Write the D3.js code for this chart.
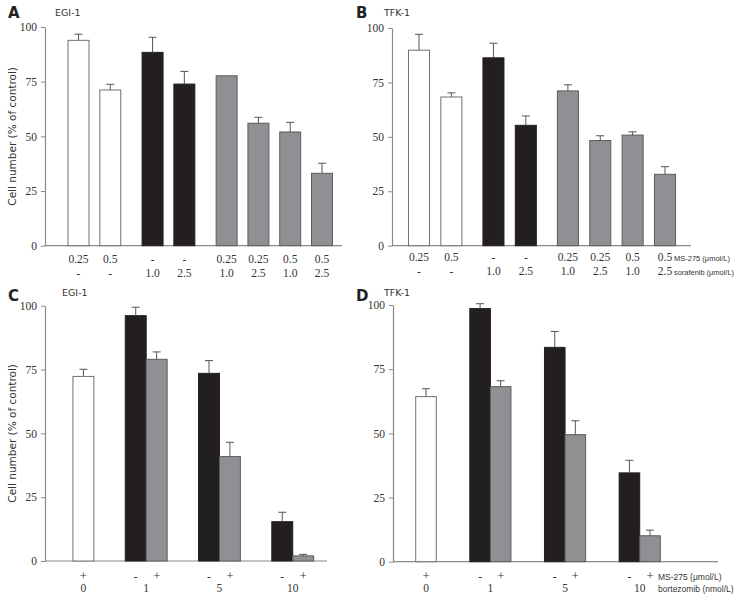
<!DOCTYPE html>
<html><head><meta charset="utf-8">
<script src="https://cdn.jsdelivr.net/npm/d3@7"></script>
<style>
html,body{margin:0;padding:0;background:#fff;}
svg{display:block;}
</style></head>
<body>
<script>
// ---------- DATA ----------
// Panels A/B: MS-275 + sorafenib
const sorafMS275Labels = ["0.25","0.5","-","-","0.25","0.25","0.5","0.5"];
const sorafDoseLabels  = ["-","-","1.0","2.5","1.0","2.5","1.0","2.5"];
const sorafBarType     = ["white","white","black","black","gray","gray","gray","gray"];
const sorafGroup       = [0,0,1,1,2,2,2,2];
const egiSorafValues   = [93.9, 71.2, 88.4, 73.9, 77.7, 56.0, 52.0, 33.1];
const egiSorafErrors   = [2.8, 2.6, 6.9, 5.8, 0, 2.7, 4.4, 4.6];
const tfkSorafValues   = [89.8, 68.3, 86.3, 55.3, 71.1, 48.3, 50.8, 32.8];
const tfkSorafErrors   = [7.3, 1.9, 6.7, 4.3, 2.8, 2.2, 1.5, 3.5];

// Panels C/D: MS-275 + bortezomib
const bortDoses        = ["0","1","5","10"];
const egiBortMinus     = [null, 96.1, 73.5, 15.4];
const egiBortMinusErr  = [null, 3.3, 5.0, 3.7];
const egiBortPlus      = [72.3, 79.0, 40.9, 2.0];
const egiBortPlusErr   = [2.8, 2.9, 5.6, 0.6];
const tfkBortMinus     = [null, 98.6, 83.5, 34.6];
const tfkBortMinusErr  = [null, 1.9, 6.2, 4.9];
const tfkBortPlus      = [64.3, 68.2, 49.5, 10.1];
const tfkBortPlusErr   = [3.1, 2.3, 5.4, 2.2];

const yTicks = [0, 25, 50, 75, 100];

// ---------- STYLE ----------
const fills   = {white:"#ffffff", black:"#231f20", gray:"#8f9094"};
const strokes = {white:"#707070", black:"#231f20", gray:"#5c5c5c"};
const numFont = "'Liberation Serif', serif";
const sansFont = "'DejaVu Sans', sans-serif";
const smallFont = "'Liberation Sans', 'DejaVu Sans', sans-serif";

const svg = d3.select("body").append("svg").attr("width",738).attr("height",601);

function sorafBars(values, errs){
  return values.map((v,i)=>({value:v, err:errs[i], type:sorafBarType[i], group:sorafGroup[i],
    label1:sorafMS275Labels[i], label2:sorafDoseLabels[i]}));
}
function bortBars(minus, minusErr, plus, plusErr){
  const bars=[];
  bortDoses.forEach((d,g)=>{
    if(minus[g]!==null) bars.push({value:minus[g], err:minusErr[g], type:"black", group:g, label1:"-"});
    bars.push({value:plus[g], err:plusErr[g], type: g===0?"white":"gray", group:g, label1:"+"});
  });
  return bars;
}

function fitText(sel, maxW){
  const n = sel.node();
  const w = n.getComputedTextLength();
  if(w > maxW) sel.attr("textLength", maxW).attr("lengthAdjust","spacingAndGlyphs");
}

function drawPanel(p){
  const g = svg.append("g");
  const y = d3.scaleLinear().domain([0,100]).range([p.y0, p.y100]);
  const bars = p.bars;
  bars.forEach((b,i)=>{ b.slot = i + b.group*p.gap; });
  const maxSlot = bars[bars.length-1].slot;
  const x = d3.scaleLinear().domain([0, maxSlot]).range(p.xRange);
  const step = (p.xRange[1]-p.xRange[0])/maxSlot;
  const bw = step*p.barFrac;

  // x baseline
  g.append("line").attr("x1",p.axisX).attr("x2",p.xEnd).attr("y1",y(0)).attr("y2",y(0))
    .attr("stroke","#8a8a8a").attr("stroke-width",1.2);

  // bars
  g.selectAll("rect.bar").data(bars).join("rect").attr("class","bar")
    .attr("x",d=>x(d.slot)-bw/2).attr("width",bw)
    .attr("y",d=>y(d.value)).attr("height",d=>y(0)-y(d.value))
    .attr("fill",d=>fills[d.type]).attr("stroke",d=>strokes[d.type]).attr("stroke-width",1);

  // error bars
  const eb = bars.filter(d=>d.err>0);
  g.selectAll("line.err").data(eb).join("line").attr("class","err")
    .attr("x1",d=>x(d.slot)).attr("x2",d=>x(d.slot))
    .attr("y1",d=>y(d.value)).attr("y2",d=>y(d.value+d.err))
    .attr("stroke","#555").attr("stroke-width",1);
  g.selectAll("line.cap").data(eb).join("line").attr("class","cap")
    .attr("x1",d=>x(d.slot)-4).attr("x2",d=>x(d.slot)+4)
    .attr("y1",d=>y(d.value+d.err)).attr("y2",d=>y(d.value+d.err))
    .attr("stroke","#555").attr("stroke-width",1);

  // y axis
  const ax = g.append("g").attr("transform",`translate(${p.axisX},0)`)
    .call(d3.axisLeft(y).tickValues(yTicks).tickSize(4).tickSizeOuter(0).tickPadding(4));
  ax.select(".domain").attr("stroke","#8a8a8a").attr("stroke-width",1.2);
  ax.selectAll(".tick line").attr("stroke","#8a8a8a");
  ax.selectAll(".tick text").attr("font-family",numFont).attr("font-size",11.5).attr("fill","#333");

  // x labels
  g.selectAll("text.l1").data(bars).join("text").attr("class","l1")
    .attr("x",d=>x(d.slot)).attr("y",p.row1).attr("text-anchor","middle")
    .attr("font-family",numFont).attr("font-size",d=>d.label1==="+"?12.5:11.5).attr("fill","#333").text(d=>d.label1);
  if(p.kind==="soraf"){
    g.selectAll("text.l2").data(bars).join("text").attr("class","l2")
      .attr("x",d=>x(d.slot)).attr("y",p.row2).attr("text-anchor","middle")
      .attr("font-family",numFont).attr("font-size",11.5).attr("fill","#333").text(d=>d.label2);
  } else {
    const gc = bortDoses.map((d,gi)=>{
      const bs = bars.filter(b=>b.group===gi);
      return {dose:d, cx:d3.mean(bs,b=>x(b.slot))};
    });
    g.selectAll("text.l2").data(gc).join("text").attr("class","l2")
      .attr("x",d=>d.cx).attr("y",p.row2).attr("text-anchor","middle")
      .attr("font-family",numFont).attr("font-size",11.5).attr("fill","#333").text(d=>d.dose);
  }
  if(p.suffix){
    const maxW = 734 - p.suffixX;
    p.suffix.forEach((s,k)=>{
      const t = g.append("text").attr("x",p.suffixX).attr("y",k===0?p.row1:p.row2)
        .attr("font-family",smallFont).attr("font-size",p.suffixSize).attr("fill","#333").text(s);
      fitText(t, maxW);
    });
  }

  // panel letter & cell line
  g.append("text").attr("x",p.letterX).attr("y",p.letterY).attr("font-family",sansFont)
    .attr("font-weight","bold").attr("font-size",15).attr("fill","#222").text(p.letter);
  g.append("text").attr("x",p.titleX).attr("y",p.titleY).attr("font-family",sansFont)
    .attr("font-size",9.5).attr("fill","#333").text(p.title);

  if(p.yTitle){
    const cy = (p.y0+p.y100)/2;
    g.append("text").attr("transform",`translate(${p.yTitleX},${cy}) rotate(-90)`)
      .attr("text-anchor","middle").attr("font-family",sansFont).attr("font-size",10.5)
      .attr("fill","#333").text("Cell number (% of control)");
  }
}

drawPanel({kind:"soraf", letter:"A", title:"EGI-1", bars:sorafBars(egiSorafValues, egiSorafErrors),
  gap:0.33, xRange:[78.5,322], barFrac:0.66, axisX:45, xEnd:342, y0:245.7, y100:27,
  row1:263, row2:277, letterX:8, letterY:18, titleX:55, titleY:16, yTitle:true, yTitleX:16});
drawPanel({kind:"soraf", letter:"B", title:"TFK-1", bars:sorafBars(tfkSorafValues, tfkSorafErrors),
  gap:0.3, xRange:[419,665], barFrac:0.65, axisX:392, xEnd:691, y0:245.7, y100:28,
  row1:261, row2:275, letterX:356, letterY:18, titleX:384, titleY:16,
  suffix:["MS-275 (μmol/L)","sorafenib (μmol/L)"], suffixX:674, suffixSize:7.5});
drawPanel({kind:"bort", letter:"C", title:"EGI-1", bars:bortBars(egiBortMinus, egiBortMinusErr, egiBortPlus, egiBortPlusErr),
  gap:1.5, xRange:[83.4,303.2], barFrac:1.0, axisX:45, xEnd:327, y0:561, y100:305.7,
  row1:580, row2:592, letterX:8, letterY:301, titleX:62, titleY:296, yTitle:true, yTitleX:16});
drawPanel({kind:"bort", letter:"D", title:"TFK-1", bars:bortBars(tfkBortMinus, tfkBortMinusErr, tfkBortPlus, tfkBortPlusErr),
  gap:1.63, xRange:[426,650], barFrac:1.0, axisX:393, xEnd:718, y0:561.7, y100:305,
  row1:580, row2:592, letterX:356, letterY:301, titleX:384, titleY:296,
  suffix:["MS-275 (μmol/L)","bortezomib (nmol/L)"], suffixX:658, suffixSize:8.5});
</script>
</body></html>
